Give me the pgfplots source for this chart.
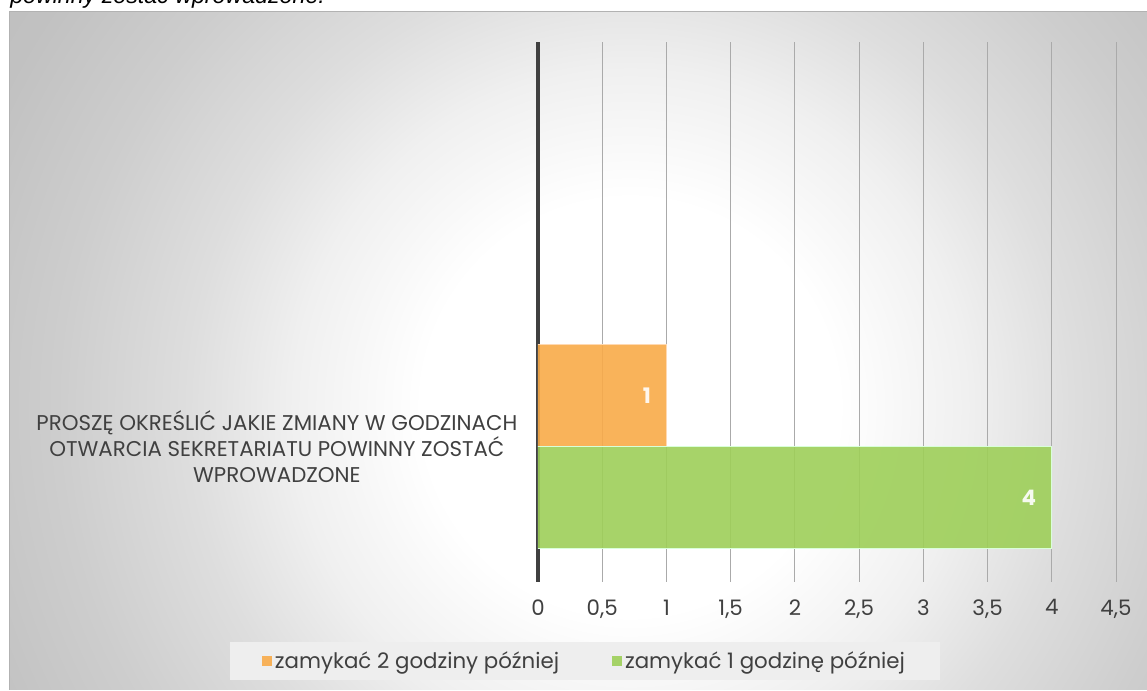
\documentclass[border=0pt]{standalone}
\usepackage{pgfplots}
\pgfplotsset{compat=1.18}
\usepackage{fontspec}
\setmainfont{Poppins}
\newfontfamily\arialit{Liberation Sans}
\definecolor{txt}{RGB}{64,64,64}
\definecolor{orangebar}{RGB}{249,171,73}
\definecolor{greenbar}{RGB}{158,207,89}
\definecolor{gridc}{RGB}{170,170,170}
\definecolor{legbg}{RGB}{238,238,238}
\pgfdeclareradialshading{bgshade}{\pgfpoint{0bp}{0bp}}{%
  color(0bp)=(white);
  color(16bp)=(white);
  color(26bp)=(white!94!black);
  color(34bp)=(white!87!black);
  color(44bp)=(white!80.5!black);
  color(54bp)=(white!75.7!black);
  color(75bp)=(white!72.5!black)}
\begin{document}
\begin{tikzpicture}
\useasboundingbox (0,0) rectangle (860.25pt,518.25pt);
% top cut-off text
\node[anchor=base west, inner sep=0pt, font=\arialit\itshape\fontsize{17.4}{20}\selectfont, text=black]
  at (7.5pt,515.25pt) {powinny zostać wprowadzone.};
% chart frame with radial gradient
\begin{scope}
\clip (6.75pt,0.75pt) rectangle (866pt,509.25pt);
\pgftransformshift{\pgfpoint{472.5pt}{213pt}}
\pgftransformscale{9.71}
\pgflowlevelsynccm
\pgfuseshading{bgshade}
\end{scope}
\draw[gray!60, line width=0.75pt] (6.75pt,0.75pt) -- (6.75pt,509.25pt) -- (866pt,509.25pt);
\begin{axis}[
  at={(403.5pt,81.75pt)}, anchor=south west,
  scale only axis, width=433.5pt, height=405pt,
  xmin=0, xmax=4.5, ymin=0, ymax=540,
  xbar, bar width=102, bar shift=0pt,
  axis line style={draw=none},
  major tick length=0pt,
  xtick={0,0.5,...,4.5},
  /pgf/number format/use comma,
  /pgf/number format/assume math mode=true,
  xticklabel style={font=\fontsize{16}{19.5}\selectfont, text=txt, yshift=-9.75pt},
  ytick={135},
  yticklabels={PROSZĘ OKREŚLIĆ JAKIE ZMIANY W GODZINACH\\OTWARCIA SEKRETARIATU POWINNY ZOSTAĆ\\WPROWADZONE},
  yticklabel style={align=center, font=\fontsize{16}{19.5}\selectfont, text=txt, xshift=-12pt},
  xmajorgrids, grid style={gridc, line width=0.75pt},
  extra x ticks={0}, extra x tick labels={},
  extra x tick style={grid style={black!75, line width=2.6pt}},
  nodes near coords,
  every node near coord/.append style={anchor=east, text=white, font=\fontsize{16}{19.5}\selectfont\bfseries, xshift=-8pt},
  legend columns=2,
  legend style={at={(axis description cs:0.0813,-0.1463)}, anchor=center,
    fill=legbg, draw=none, font=\fontsize{16}{19.5}\selectfont, text=txt,
    inner xsep=24pt, inner ysep=5pt},
  legend cell align=left,
  /tikz/every even column/.append style={column sep=38pt},
  legend image code/.code={\fill[#1, draw=none] (0pt,-3.75pt) rectangle (7.5pt,3.75pt);},
]
\addplot[fill=orangebar, fill opacity=0.9, draw=orange!30, line width=0.75pt] coordinates {(1,186)};
\addlegendentry{zamykać 2 godziny później}
\addplot[fill=greenbar, fill opacity=0.9, draw=green!15!white, line width=0.75pt] coordinates {(4,84)};
\addlegendentry{zamykać 1 godzinę później}
\end{axis}
\end{tikzpicture}
\end{document}
